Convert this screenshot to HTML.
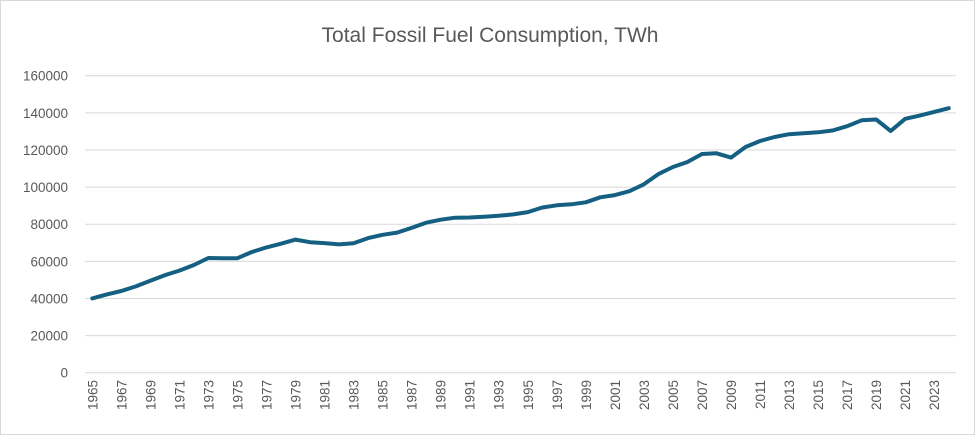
<!DOCTYPE html>
<html><head><meta charset="utf-8"><style>
html,body{margin:0;padding:0;background:#fff;}
svg{display:block;font-family:"Liberation Sans",sans-serif;}
</style></head><body>
<svg id="chart" width="980" height="436">
<rect x="0.5" y="0.5" width="974" height="434" fill="#fff" stroke="#d9d9d9"/>
<text x="490" y="42" text-anchor="middle" font-size="21" fill="#595959">Total Fossil Fuel Consumption, TWh</text>
<g id="grid"></g><g id="ylabels"></g><g id="xlabels"></g><g id="series"></g>
</svg>
<script>
const years = [];
for (let y = 1965; y <= 2024; y++) years.push(y);
const consumption = [40000,42200,44000,46500,49500,52500,55000,58000,61800,61700,61700,65000,67500,69500,71700,70300,69800,69100,69700,72500,74300,75500,78000,80800,82400,83500,83600,84000,84500,85300,86500,89000,90200,90700,91800,94500,95700,97800,101500,107000,110800,113500,117800,118200,115900,121600,124800,127000,128500,129000,129500,130500,132800,136000,136400,130200,136800,138500,140500,142500];
const yTicks = [0,20000,40000,60000,80000,100000,120000,140000,160000];

const NS = 'http://www.w3.org/2000/svg';
const x0 = 85, x1 = 956, yTop = 75.7, yBot = 372.7, yMax = 160000;
const step = (x1 - x0) / years.length;
const xs = i => x0 + step * (i + 0.5);
const ys = v => yBot - (v / yMax) * (yBot - yTop);
function mk(tag, attrs, parent) { const e = document.createElementNS(NS, tag); for (const k in attrs) e.setAttribute(k, attrs[k]); parent.appendChild(e); return e; }

const grid = document.getElementById('grid'), yl = document.getElementById('ylabels'), xl = document.getElementById('xlabels'), ser = document.getElementById('series');
yTicks.forEach(t => {
  const l = mk('line', {x1: x0, x2: x1, y1: ys(t), y2: ys(t), stroke: '#d9d9d9', 'stroke-width': 1}, grid);
  
  
  const tx = mk('text', {x: 68, y: ys(t) + 5, 'text-anchor': 'end', 'font-size': 13.5, fill: '#595959'}, yl);
  tx.textContent = t;
  
  
});
years.forEach((yr, i) => {
  if (i % 2) return;
  const x = xs(i) + 5, y = 380;
  const tx = mk('text', {x: x, y: y, 'text-anchor': 'end', 'font-size': 13.5, fill: '#595959', transform: `rotate(-90 ${x} ${y})`}, xl);
  tx.textContent = yr;
  
  
});
const pts = consumption.map((v, i) => xs(i).toFixed(1) + ',' + ys(v).toFixed(1)).join(' ');
const pl = mk('polyline', {points: pts, fill: 'none', stroke: '#156082', 'stroke-width': 4, 'stroke-linejoin': 'round', 'stroke-linecap': 'round'}, ser);


</script>
</body></html>
